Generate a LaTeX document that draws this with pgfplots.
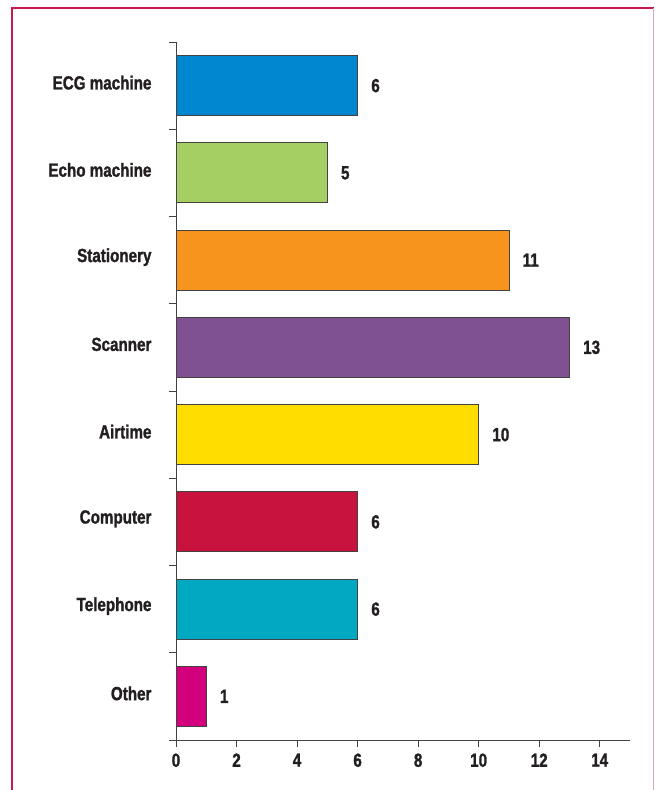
\documentclass[border=0pt]{standalone}
\usepackage{pgfplots}
\pgfplotsset{compat=1.18}
\usepackage{fontspec}
\setmainfont{Liberation Sans}[FakeStretch=0.80, BoldFeatures={FakeBold=1.3}]
\definecolor{cECG}{HTML}{0087CF}
\definecolor{cEcho}{HTML}{A5CF63}
\definecolor{cStat}{HTML}{F7941D}
\definecolor{cScan}{HTML}{7F5193}
\definecolor{cAir}{HTML}{FFDD00}
\definecolor{cComp}{HTML}{C8133F}
\definecolor{cTel}{HTML}{00A8C2}
\definecolor{cOth}{HTML}{D3007D}
\definecolor{frame}{HTML}{C8174A}
\definecolor{txt}{HTML}{231F20}
\begin{document}
\begin{tikzpicture}[x=1pt,y=1pt]
\useasboundingbox (0,0) rectangle (654,790);
\draw[frame, line width=2.2pt] (12,0) -- (12,782) -- (654,782);
\draw[frame!40, line width=1pt] (653,782) -- (653,0);
\begin{axis}[
  at={(176pt,50pt)}, anchor=south west,
  scale only axis, width=454pt, height=698pt,
  xmin=0, xmax=15, ymin=-0.5, ymax=7.5, y dir=reverse,
  axis x line*=bottom, axis y line*=left,
  axis line style={txt!85, line width=0.9pt},
  xbar, bar shift=0pt, bar width=60pt,
  xtick={0,2,...,14}, xtick align=outside,
  ytick={-0.5,0.5,...,7.5}, yticklabels={}, ytick align=outside,
  major tick length=7pt,
  tick style={txt!85, line width=0.9pt},
  extra y ticks={0,1,2,3,4,5,6,7},
  extra y tick labels={ECG machine,Echo machine,Stationery,Scanner,Airtime,Computer,Telephone,Other},
  extra y tick style={major tick length=0pt, yticklabel style={xshift=-21pt, yshift=3pt}},
  /pgf/number format/assume math mode=true,
  ticklabel style={font=\bfseries\fontsize{19}{21}\selectfont, text=txt},
  xticklabel style={yshift=-3pt},
  nodes near coords,
  nodes near coords style={font=\bfseries\fontsize{19}{21}\selectfont, text=txt, xshift=10pt},
  every axis plot/.append style={draw=txt!85, line width=0.8pt},
  clip=false,
]
\addplot[fill=cECG] coordinates {(6,0)};
\addplot[fill=cEcho] coordinates {(5,1)};
\addplot[fill=cStat] coordinates {(11,2)};
\addplot[fill=cScan] coordinates {(13,3)};
\addplot[fill=cAir] coordinates {(10,4)};
\addplot[fill=cComp] coordinates {(6,5)};
\addplot[fill=cTel] coordinates {(6,6)};
\addplot[fill=cOth] coordinates {(1,7)};
\end{axis}
\end{tikzpicture}
\end{document}
